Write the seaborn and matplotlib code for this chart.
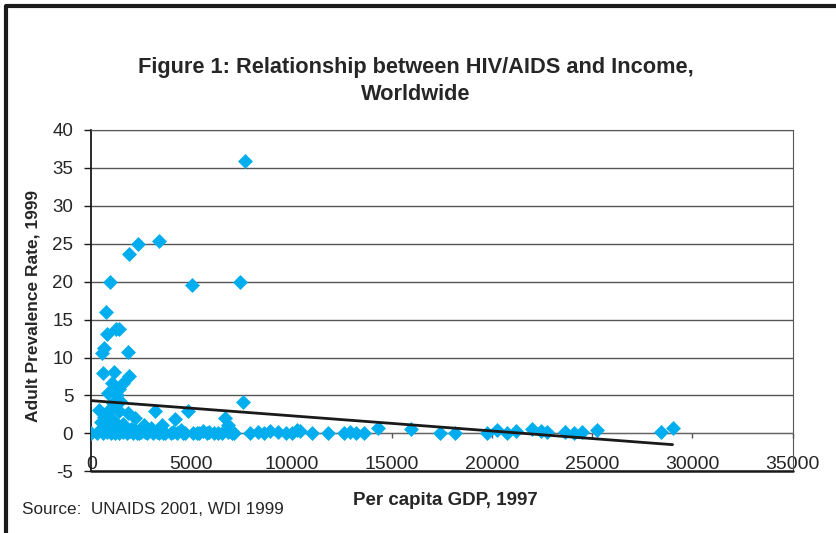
import numpy as np
import pandas as pd
import matplotlib.pyplot as plt
import seaborn as sns
from matplotlib.lines import Line2D

# Per capita GDP 1997 (US$) and adult HIV prevalence 1999 (%)
gdp_per_capita = [
    7650, 2350, 3370, 1870, 950, 5050, 7420, 735, 1250, 1370,
    760, 620, 520, 1850, 580, 1150, 1900, 1020, 1600, 1400,
    850, 1270, 7580, 1450, 1100, 3190, 4850, 370, 820, 1370,
    4190, 2190, 6690, 6840, 10270, 650, 1070, 1820, 2650, 2990,
    3520, 1600, 480, 900, 2000, 4500, 5600, 5900,
    0, 300, 600, 800, 1000, 1200, 1400, 1600, 1800, 2100,
    2300, 2500, 2800, 3100, 3400, 3700, 4000, 4300, 4700, 5100,
    5300, 6300, 6500, 6800, 7100, 7900, 8300, 8900, 9300, 10000,
    10400, 11800, 12600, 12900, 13200, 13600, 14290, 15950, 17400, 18130,
    19750, 20250, 20750, 21200, 21990, 22440, 22770, 23650, 24070, 24490,
    25240, 28450, 29010,
    450, 700, 950, 1150, 1500, 1700, 1950, 2200, 2700, 3000,
    3600, 4100, 4600, 5400, 6100, 7000,
    2400, 3300, 5800, 8600, 9700, 11000,
]
adult_prevalence = [
    35.8, 25.0, 25.3, 23.6, 19.9, 19.5, 19.9, 16.0, 13.8, 13.7,
    13.1, 11.2, 10.6, 10.7, 8.0, 8.1, 7.6, 6.6, 6.6, 5.8,
    5.3, 5.0, 4.1, 4.3, 4.0, 3.0, 2.9, 3.1, 3.0, 2.9,
    1.9, 2.0, 2.1, 1.1, 0.5, 2.2, 1.8, 2.7, 1.1, 0.7,
    1.1, 1.3, 1.5, 0.9, 0.6, 0.5, 0.3, 0.2,
    0.0, 0.1, 0.0, 0.2, 0.0, 0.1, 0.0, 0.2, 0.0, 0.1,
    0.0, 0.2, 0.1, 0.0, 0.1, 0.0, 0.1, 0.0, 0.1, 0.0,
    0.1, 0.1, 0.0, 0.2, 0.1, 0.1, 0.2, 0.3, 0.2, 0.1,
    0.3, 0.0, 0.1, 0.2, 0.1, 0.0, 0.7, 0.55, 0.0, 0.1,
    0.1, 0.46, 0.1, 0.33, 0.55, 0.29, 0.2, 0.2, 0.1, 0.15,
    0.46, 0.24, 0.69,
    0.4, 0.6, 0.3, 0.5, 0.8, 0.4, 0.3, 0.5, 0.2, 0.3,
    0.1, 0.2, 0.1, 0.0, 0.1, 0.0,
    0.1, 0.2, 0.1, 0.1, 0.0, 0.1,
]

x_ticks = [0, 5000, 10000, 15000, 20000, 25000, 30000, 35000]
y_ticks = [-5, 0, 5, 10, 15, 20, 25, 30, 35, 40]

df = pd.DataFrame({"gdp": gdp_per_capita, "hiv": adult_prevalence})

sns.set_style("white")
plt.rcParams["font.family"] = ["Liberation Sans", "DejaVu Sans"]

fig = plt.figure(figsize=(8.36, 5.33), dpi=100)
ax = fig.add_axes([0.1092, 0.1154, 0.8388, 0.6416])

sns.scatterplot(data=df, x="gdp", y="hiv", marker="D", s=58,
                color="#00AEEF", linewidth=0, ax=ax, zorder=3)
sns.regplot(data=df, x="gdp", y="hiv", scatter=False, ci=None, truncate=True,
            line_kws={"color": "#1a1a1a", "lw": 2.0, "zorder": 4}, ax=ax)

# x axis crosses at zero, like the Excel chart (set before ticks, it resets them)
ax.spines["bottom"].set_position(("data", 0))
ax.spines["bottom"].set_color("#666666")
ax.spines["left"].set_color("#1a1a1a")
ax.spines["left"].set_linewidth(1.3)
ax.spines["right"].set_color("#555555")
ax.spines["top"].set_color("#555555")

ax.set_xlim(0, 35000)
ax.set_ylim(-5, 40)
ax.set_xticks(x_ticks)
ax.set_yticks(y_ticks)
ax.set_xticklabels([str(t) for t in x_ticks], fontsize=14)
ax.set_yticklabels([str(t) for t in y_ticks], fontsize=13.5)

ax.yaxis.grid(True, color="#555555", lw=1)
ax.xaxis.grid(False)
ax.set_axisbelow(True)
ax.axhline(-5, color="#1a1a1a", lw=1.8, clip_on=False, zorder=5)

ax.tick_params(axis="x", direction="out", length=3.6, width=1, color="#555555",
               pad=12.5, bottom=True)
ax.tick_params(axis="y", direction="out", length=5, width=1, color="#1a1a1a",
               pad=8, left=True)

ax.set_xlabel("Per capita GDP, 1997", fontsize=13.5, fontweight="bold")
ax.xaxis.set_label_coords(0.505, -0.06)
ax.set_ylabel("Adult Prevalence Rate, 1999", fontsize=12.5, fontweight="bold")
ax.yaxis.set_label_coords(-0.072, 0.484)

fig.text(0.497, 1 - 81 / 533, "Figure 1: Relationship between HIV/AIDS and Income,\nWorldwide",
         ha="center", va="center", fontsize=15.7, fontweight="bold", linespacing=1.4)
fig.text(22 / 836, 1 - 510 / 533, "Source:  UNAIDS 2001, WDI 1999",
         ha="left", va="center", fontsize=12.3)

# frame around the figure (top and left edges visible)
bx, by = 6 / 836, 1 - 6 / 533
fig.add_artist(Line2D([bx, bx, 1.0], [0.0, by, by], transform=fig.transFigure,
                      color="#1a1a1a", lw=3))

fig.savefig("out.png", dpi=100)
